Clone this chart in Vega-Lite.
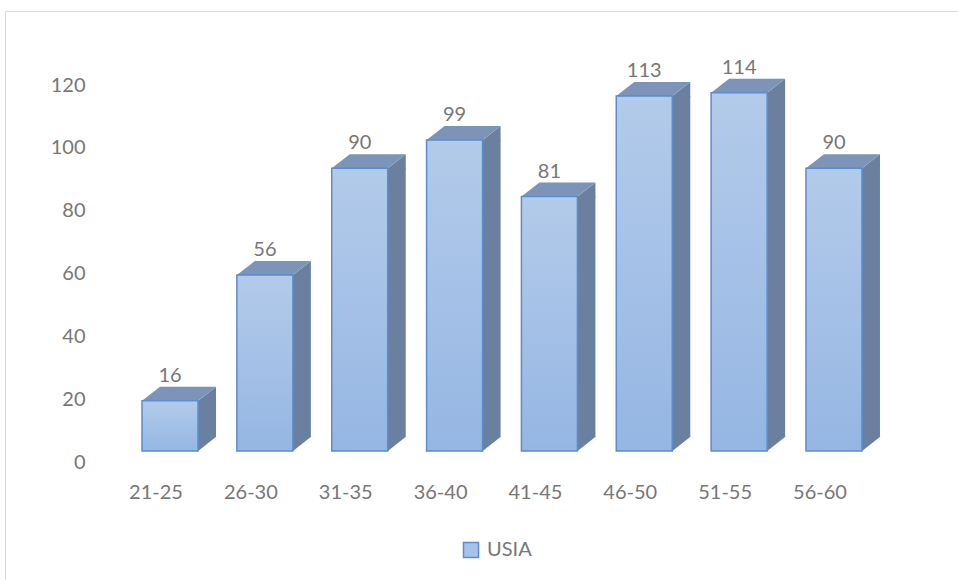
{
  "$schema": "https://vega.github.io/schema/vega-lite/v6.json",
  "autosize": "none",
  "width": 953,
  "height": 569,
  "padding": {"left": 5, "top": 11, "right": 0, "bottom": 0},
  "background": "white",
  "config": {
    "font": "Lato",
    "view": {"stroke": "#d9d9d9", "strokeWidth": 1},
    "axisX": {"orient": "bottom", "offset": -118, "domain": false, "ticks": false, "tickSize": 0, "grid": false, "labelPadding": 36, "labelBaseline": "alphabetic", "labelFontSize": 20, "labelColor": "#777777", "labelFont": "Lato", "labelAngle": 0, "title": null},
    "axisY": {"orient": "left", "offset": -80, "domain": false, "ticks": false, "tickSize": 0, "grid": false, "labelPadding": 0, "labelFontSize": 20, "labelColor": "#777777", "labelFont": "Lato", "title": null},
    "legend": {"orient": "none", "legendX": 456, "legendY": 529, "title": null, "symbolType": "square", "symbolSize": 225, "symbolStrokeColor": "#5b8bd0", "symbolStrokeWidth": 1.5, "labelFontSize": 20, "labelColor": "#777777", "labelFont": "Lato", "labelOffset": 6, "padding": 0}
  },
  "data": {
    "values": [
      {"usia": "21-25", "jumlah": 16},
      {"usia": "26-30", "jumlah": 56},
      {"usia": "31-35", "jumlah": 90},
      {"usia": "36-40", "jumlah": 99},
      {"usia": "41-45", "jumlah": 81},
      {"usia": "46-50", "jumlah": 113},
      {"usia": "51-55", "jumlah": 114},
      {"usia": "56-60", "jumlah": 90}
    ]
  },
  "encoding": {
    "x": {"field": "usia", "type": "nominal", "sort": null, "scale": {"range": [103.6, 862.4], "paddingInner": 0, "paddingOuter": 0}, "axis": {"title": null}},
    "y": {"field": "jumlah", "type": "quantitative", "scale": {"domain": [0, 120], "range": [451, 74], "nice": false, "zero": true}, "axis": {"values": [0, 20, 40, 60, 80, 100, 120], "title": null}}
  },
  "layer": [
    {
      "mark": {"type": "bar", "width": 18, "xOffset": 51, "yOffset": -11, "y2Offset": -25, "color": "#6b809f", "strokeWidth": 0},
      "encoding": {"y2": {"datum": 0}}
    },
    {
      "mark": {"type": "point", "shape": "M0.55 -0.29 L0.93 -0.29 L0.55 0.01 Z", "size": 10000, "filled": true, "opacity": 1, "color": "#6b809f", "strokeWidth": 0, "xOffset": 14, "yOffset": -11},
      "encoding": {"y": {"datum": 0, "type": "quantitative"}}
    },
    {
      "mark": {"type": "point", "shape": "M0.55 0.01 L0.92 -0.28 L0.92 0.02 L0.55 0.02 Z", "size": 10000, "filled": true, "opacity": 1, "color": "#6b809f", "strokeWidth": 0, "xOffset": 14, "yOffset": -11}
    },
    {
      "mark": {"type": "point", "shape": "M-0.56 0 L-0.2 -0.28 L0.92 -0.28 L0.56 0 Z", "size": 10000, "filled": true, "opacity": 1, "color": "#7b94b8", "stroke": "#6c98d4", "strokeWidth": 0.025, "xOffset": 14, "yOffset": -11}
    },
    {
      "mark": {"type": "bar", "width": 56, "xOffset": 14, "yOffset": -11, "y2Offset": -11, "strokeWidth": 0},
      "encoding": {"y2": {"datum": 0}, "fill": {"datum": "USIA", "scale": {"range": ["#a8c3e8"]}}}
    },
    {
      "mark": {"type": "bar", "width": 56, "xOffset": 14, "yOffset": -11, "y2Offset": -11, "stroke": "#5b8bd0", "strokeWidth": 1.5, "fill": {"gradient": "linear", "x1": 0, "y1": 0, "x2": 0, "y2": 1, "stops": [{"offset": 0, "color": "#b3cbea"}, {"offset": 1, "color": "#95b6e3"}]}},
      "encoding": {"y2": {"datum": 0}}
    },
    {
      "mark": {"type": "text", "xOffset": 14, "yOffset": -30, "baseline": "alphabetic", "align": "center", "fontSize": 20, "font": "Lato", "color": "#777777"},
      "encoding": {"text": {"field": "jumlah", "type": "quantitative"}}
    }
  ]
}
